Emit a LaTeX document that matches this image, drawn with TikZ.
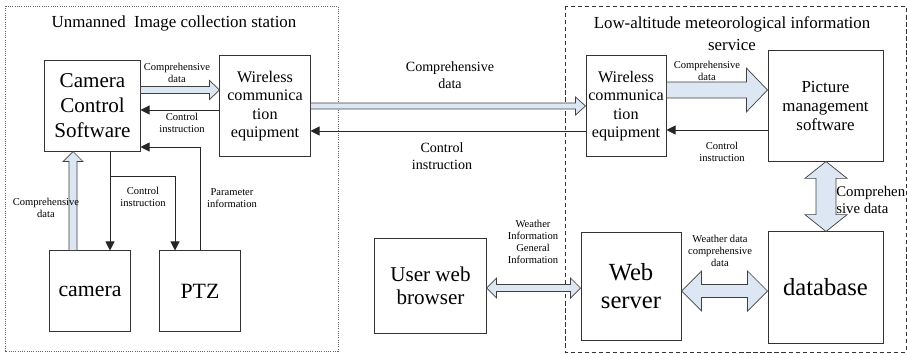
\documentclass[tikz,border=0pt]{standalone}
\usepackage{fontspec}
\setmainfont{Liberation Serif}
\usetikzlibrary{arrows.meta,calc}
\definecolor{arrowfill}{RGB}{221,231,243}

\begin{document}
\begin{tikzpicture}[x=0.025cm, y=-0.025cm,
  fat_arrow/.style n args={3}{draw=black!75, line width=0.5pt, fill=arrowfill,
    to path={let \p1=(\tikztostart), \p2=(\tikztotarget), \p3=($(\p2)!#3!(\p1)$) in
      ($(\p1)!#1!90:(\p2)$) -- ($(\p3)!#1!-90:(\p1)$) -- ($(\p3)!#2!-90:(\p1)$) -- (\p2)
      -- ($(\p3)!#2!90:(\p1)$) -- ($(\p3)!#1!90:(\p1)$) -- ($(\p1)!#1!-90:(\p2)$) -- cycle}},
  fat_double/.style n args={3}{draw=black!75, line width=0.5pt, fill=arrowfill,
    to path={let \p1=(\tikztostart), \p2=(\tikztotarget), \p3=($(\p2)!#3!(\p1)$), \p4=($(\p1)!#3!(\p2)$) in
      (\p1) -- ($(\p4)!#2!90:(\p2)$) -- ($(\p4)!#1!90:(\p2)$) -- ($(\p3)!#1!-90:(\p1)$) -- ($(\p3)!#2!-90:(\p1)$) -- (\p2)
      -- ($(\p3)!#2!90:(\p1)$) -- ($(\p3)!#1!90:(\p1)$) -- ($(\p4)!#1!-90:(\p2)$) -- ($(\p4)!#2!-90:(\p2)$) -- cycle}}]
\tikzstyle{box_style} = [draw=black!80, line width=0.7pt, align=center, inner sep=1pt]
\tikzstyle{title_style} = [align=center, inner sep=0pt, font=\fontsize{12}{15.6}\selectfont]
\tikzstyle{small_label} = [align=center, inner sep=0pt, font=\fontsize{7.5}{8.7}\selectfont]
\tikzstyle{mid_label} = [align=center, inner sep=0pt, font=\fontsize{10}{12}\selectfont]
\tikzstyle{line_style} = [draw=black!85, line width=0.7pt, -{Triangle[length=6.5pt,width=6.5pt]}]

\useasboundingbox (0,0) rectangle (907,354);

% station frames
\draw[black!60, line width=0.6pt, densely dotted] (5,6) rectangle (338,351);
\draw[black!80, line width=0.7pt, dash pattern=on 3pt off 2pt] (565,6) rectangle (906,352);
\node[title_style] (t_station) at (174,23) {Unmanned\ \ Image collection station};
\node[title_style] (t_service) at (732,34) {Low-altitude meteorological information\\service};

% boxes
\node[box_style, minimum width=2.375cm, minimum height=2.25cm, font=\fontsize{15}{17.8}\selectfont] (ccs) at (92.5,106) {Camera\\Control\\Software};
\node[box_style, minimum width=2.25cm, minimum height=2.5cm, font=\fontsize{11.5}{13.2}\selectfont] (wlL) at (265,106) {Wireless\\communica\\tion\\equipment};
\node[box_style, minimum width=2cm, minimum height=2cm, font=\fontsize{15.5}{18}\selectfont] (cam) at (90,291) {camera};
\node[box_style, minimum width=2cm, minimum height=2cm, font=\fontsize{15.5}{18}\selectfont] (ptz) at (200,291) {PTZ};
\node[box_style, minimum width=2cm, minimum height=2.5cm, font=\fontsize{11.5}{13.2}\selectfont] (wlR) at (626,106) {Wireless\\communica\\tion\\equipment};
\node[box_style, minimum width=2.875cm, minimum height=2.75cm, font=\fontsize{12}{13.6}\selectfont] (pic) at (825.5,106) {Picture\\management\\software};
\node[box_style, minimum width=2.875cm, minimum height=2.775cm, font=\fontsize{17.5}{20}\selectfont] (db) at (825.5,287.5) {database};
\node[box_style, minimum width=2.5cm, minimum height=2.675cm, font=\fontsize{17.5}{20}\selectfont] (web) at (631,286.5) {Web\\server};
\node[box_style, minimum width=2.775cm, minimum height=2.35cm, font=\fontsize{15}{16.4}\selectfont] (usr) at (430.5,286) {User web\\browser};

% fat data arrows
\draw[fat_arrow={2.5pt}{6.8pt}{7.1pt}] (ccs.east |- 0,90) to (wlL.west |- 0,90);
\draw[fat_arrow={2.1pt}{6.4pt}{7.1pt}] (wlL.east |- 0,106) to (wlR.west |- 0,106);
\draw[fat_arrow={5.7pt}{15.6pt}{15pt}] (wlR.east |- 0,90) to (pic.west |- 0,90);
\draw[fat_arrow={2.85pt}{7.1pt}{7.1pt}] (cam.north -| 73,0) to (ccs.south -| 73,0);
\draw[fat_double={7.1pt}{15pt}{12pt}] (pic.south -| 826,0) to (db.north -| 826,0);
\draw[fat_double={4.6pt}{14.2pt}{14.2pt}] (web.east |- 0,291) to (db.west |- 0,291);
\draw[fat_double={2.5pt}{7.1pt}{7.1pt}] (usr.east |- 0,288) to (web.west |- 0,288);

% control lines
\draw[line_style] (wlL.west |- 0,110) -- (ccs.east |- 0,110);
\draw[line_style] (wlR.west |- 0,131) -- (wlL.east |- 0,131);
\draw[line_style] (pic.west |- 0,130) -- (wlR.east |- 0,130);
\draw[line_style] (ccs.south -| 110,0) -- (cam.north -| 110,0);
\coordinate (ctrl_split) at (110,176);
\draw[line_style] (ctrl_split) -| (ptz.north -| 175,0);
\draw[line_style] (ptz.north -| 200,0) |- (ccs.east |- 0,147);

% labels
\node[small_label] (l_cd1) at (177,73) {Comprehensive\\data};
\node[small_label] (l_ci1) at (182,123) {Control\\instruction};
\node[small_label] (l_cd2) at (46,208) {Comprehensive\\data};
\node[small_label] (l_ci2) at (143,197) {Control\\instruction};
\node[small_label] (l_par) at (232,198) {Parameter\\information};
\node[mid_label] (l_cd3) at (450,75) {Comprehensive\\data};
\node[mid_label] (l_ci3) at (442,156) {Control\\instruction};
\node[small_label] (l_cd4) at (707,71) {Comprehensive\\data};
\node[small_label] (l_ci4) at (722,152) {Control\\instruction};
\node[mid_label, align=left, anchor=west, font=\fontsize{10.5}{12}\selectfont] (l_cd5) at (836,200) {Comprehen\\sive data};
\node[small_label] (l_info) at (533,242) {Weather\\Information\\General\\Information};
\node[small_label] (l_wd) at (720,251) {Weather data\\comprehensive\\data};
\end{tikzpicture}
\end{document}
